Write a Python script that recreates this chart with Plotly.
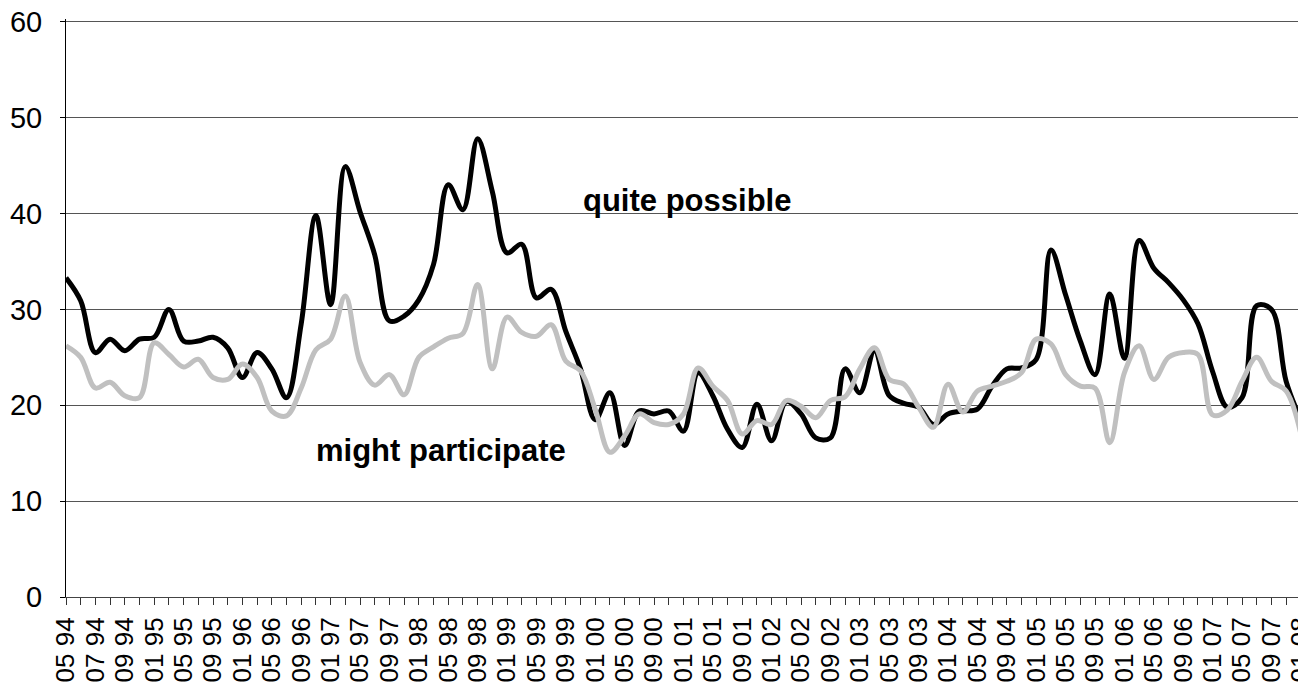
import plotly.graph_objects as go

categories = [
    "05 94", "06 94", "07 94", "08 94", "09 94", "11 94",
    "01 95", "03 95", "05 95", "07 95", "09 95", "11 95",
    "01 96", "03 96", "05 96", "07 96", "09 96", "11 96",
    "01 97", "03 97", "05 97", "07 97", "09 97", "11 97",
    "01 98", "03 98", "05 98", "07 98", "09 98", "11 98",
    "01 99", "03 99", "05 99", "07 99", "09 99", "11 99",
    "01 00", "03 00", "05 00", "07 00", "09 00", "11 00",
    "01 01", "03 01", "05 01", "07 01", "09 01", "11 01",
    "01 02", "03 02", "05 02", "07 02", "09 02", "11 02",
    "01 03", "03 03", "05 03", "07 03", "09 03", "11 03",
    "01 04", "03 04", "05 04", "07 04", "09 04", "11 04",
    "01 05", "03 05", "05 05", "07 05", "09 05", "11 05",
    "01 06", "03 06", "05 06", "07 06", "09 06", "11 06",
    "01 07", "03 07", "05 07", "07 07", "09 07", "11 07",
    "01 08",
]

quite_possible = [
    33.3, 30.9, 25.5, 26.9, 25.7, 26.9, 27.1, 30.0, 26.7, 26.7,
    27.1, 26.0, 22.9, 25.5, 23.8, 20.8, 28.5, 39.8, 30.5, 44.9,
    40.2, 35.7, 28.8, 29.3, 31.0, 34.7, 43.0, 40.4, 47.8, 42.3,
    35.9, 36.8, 31.2, 32.1, 27.7, 23.8, 18.5, 21.3, 15.8, 19.4,
    19.1, 19.4, 17.3, 23.4, 21.0, 17.5, 15.6, 20.1, 16.3, 20.4,
    19.1, 16.6, 16.6, 23.8, 21.3, 25.7, 21.0, 20.2, 19.8, 18.0,
    19.1, 19.4, 19.6, 22.0, 23.8, 23.9, 24.8, 36.2, 31.5, 26.7,
    23.2, 31.6, 24.9, 37.2, 34.3, 32.8, 31.0, 28.5, 23.5, 19.8,
    20.8, 30.4, 30.0, 22.5, 18.5,
]

might_participate = [
    26.2, 25.0, 21.8, 22.4, 21.0, 20.8, 26.5, 25.3, 24.0, 24.8,
    22.9, 22.7, 24.3, 22.9, 19.4, 18.9, 21.8, 25.8, 26.9, 31.4,
    24.5, 22.1, 23.2, 21.1, 25.0, 26.1, 27.0, 27.5, 32.6, 23.8,
    29.2, 27.6, 27.2, 28.4, 24.6, 23.6, 19.6, 15.1, 16.8, 19.1,
    18.2, 18.0, 19.1, 23.9, 22.0, 20.5, 17.0, 18.4, 18.0, 20.5,
    19.9, 18.7, 20.5, 20.9, 23.8, 26.0, 22.7, 22.2, 19.8, 17.7,
    22.2, 19.3, 21.5, 22.0, 22.5, 23.4, 26.9, 26.4, 23.2, 22.0,
    21.8, 16.1, 23.4, 26.2, 22.7, 25.0, 25.5, 25.3, 19.0, 19.5,
    22.5, 25.0, 22.5, 21.5, 17.0,
]

tick_text = [c if i % 2 == 0 else "" for i, c in enumerate(categories)]

FONT = "Liberation Sans, Arial, sans-serif"

fig = go.Figure()
fig.add_trace(go.Scatter(
    x=categories, y=quite_possible, mode="lines", name="quite possible",
    line=dict(color="#000000", width=5, shape="spline", smoothing=1.0),
))
fig.add_trace(go.Scatter(
    x=categories, y=might_participate, mode="lines", name="might participate",
    line=dict(color="#c0c0c0", width=5, shape="spline", smoothing=1.0),
))

fig.add_annotation(text="<b>quite possible</b>", xref="paper", yref="y",
                   x=0.4155, y=41.4, xanchor="left", yanchor="middle",
                   showarrow=False, font=dict(family=FONT, size=31, color="#000000"))
fig.add_annotation(text="<b>might participate</b>", xref="paper", yref="y",
                   x=0.2, y=15.3, xanchor="left", yanchor="middle",
                   showarrow=False, font=dict(family=FONT, size=31, color="#000000"))

# the page body has an 8px margin, so the figure is sized/margined to compensate
fig.update_layout(
    width=1298, height=683,
    margin=dict(l=58, r=0, t=11, b=94),
    paper_bgcolor="white", plot_bgcolor="white",
    showlegend=False,
    font=dict(family=FONT, color="#000000"),
)
fig.update_xaxes(
    type="category", categoryorder="array", categoryarray=categories,
    range=[0, 84.35], automargin=False,
    tickmode="array", tickvals=categories, ticktext=tick_text,
    tickangle=-90, tickfont=dict(family=FONT, size=26, color="#000000"),
    ticks="outside", ticklen=7, tickwidth=1, tickcolor="#333333",
    showline=True, linecolor="#444444", linewidth=1,
    showgrid=False, zeroline=False,
    ticklabelstandoff=2,
)
fig.update_yaxes(
    range=[0, 60.3], dtick=10, tick0=0, automargin=False,
    tickfont=dict(family=FONT, size=29, color="#000000"),
    ticks="outside", ticklen=5, tickwidth=1, tickcolor="#000000",
    showline=True, linecolor="#000000", linewidth=1,
    showgrid=True, gridcolor="#555555", gridwidth=1,
    zeroline=False,
    ticklabelstandoff=12, ticklabeloverflow="allow",
)

fig.write_html("out.html")
